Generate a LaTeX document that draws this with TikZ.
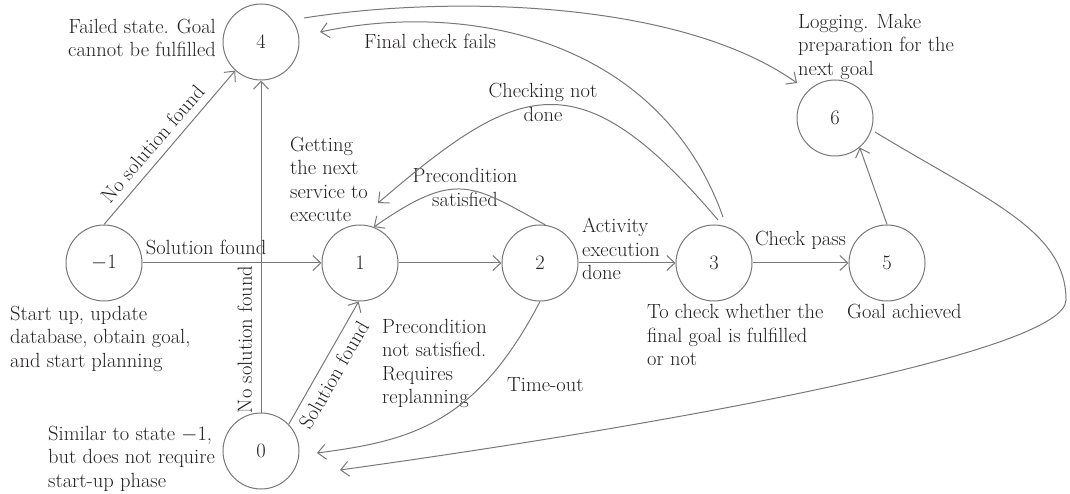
\documentclass[tikz,border=0pt]{standalone}
\usetikzlibrary{arrows.meta}
\definecolor{edgegray}{RGB}{120,120,120}
\definecolor{txtcol}{RGB}{35,31,32}
\newcommand{\lblfs}{\fontsize{20.5}{23.5}\selectfont}
\begin{document}
\begin{tikzpicture}[x=1pt,y=-1pt,
  every node/.style={text=txtcol},
  stnode/.style={circle, draw=edgegray, line width=1pt, minimum size=76pt, inner sep=0pt, font=\lblfs},
  lbl/.style={inner sep=0pt, font=\lblfs},
  conn/.style={draw=edgegray, line width=1pt, -{Straight Barb[length=8pt,width=15pt]}},
]
\useasboundingbox (0,0) rectangle (1070,494);

% states
\node[stnode] (n4) at (261,42) {4};
\node[stnode] (nm1) at (104,263) {$-$1};
\node[stnode] (n1) at (360,263) {1};
\node[stnode] (n2) at (540,263) {2};
\node[stnode] (n3) at (714,263) {3};
\node[stnode] (n5) at (887,263) {5};
\node[stnode] (n6) at (835,118) {6};
\node[stnode] (n0) at (261,451) {0};
\coordinate (loopR) at (1066,300);

% descriptions
\node[lbl, align=right, anchor=east] (tA) at (216,40.5) {\strut Failed state. Goal\\\strut cannot be fulfilled};
\node[lbl, align=left, anchor=west] (tB) at (290,182) {\strut Getting\\\strut the next\\\strut service to\\\strut execute};
\node[lbl, align=left, anchor=west] (tC) at (10,338.8) {\strut Start up, update\\\strut database, obtain goal,\\\strut and start planning};
\node[lbl, align=left, anchor=west] (tD) at (48,458.8) {\strut Similar to state $-$1,\\\strut but does not require\\\strut start-up phase};
\node[lbl, align=left, anchor=west] (tE) at (382,364) {\strut Precondition\\\strut not satisfied.\\\strut Requires\\\strut replanning};
\node[lbl, align=left, anchor=west] (tF) at (507,386.8) {\strut Time-out};
\node[lbl, align=left, anchor=west] (tG) at (647,337.3) {\strut To check whether the\\\strut final goal is fulfilled\\\strut or not};
\node[lbl, align=left, anchor=west] (tH) at (847,313.8) {\strut Goal achieved};
\node[lbl, align=left, anchor=west] (tI) at (798,47.3) {\strut Logging. Make\\\strut preparation for the\\\strut next goal};
\node[lbl, align=center] (tN) at (465,189.8) {\strut Precondition\\\strut satisfied};
\node[lbl, align=left, anchor=west] (tO) at (582,251.3) {\strut Activity\\\strut execution\\\strut done};
\node[lbl] (tQ) at (430,43.8) {\strut Final check fails};
\node[lbl, align=center] (tR) at (543,104.8) {\strut Checking not\\\strut done};

% straight connectors
\draw[conn] (nm1.north) -- node[lbl, pos=0.46, sloped, above=1pt] (lK) {\strut No solution found} (n4.228);
\draw[conn] (nm1.east) -- node[lbl, pos=0.355, above=1pt] (lJ) {\strut Solution found} (n1.west);
\draw[conn] (n0.north) -- node[lbl, pos=0.22, sloped, above=1.5pt] (lL) {\strut No solution found} (n4.south);
\draw[conn] (n0.44) -- node[lbl, pos=0.46, sloped, below=5pt] (lM) {\strut Solution found} (n1.268);
\draw[conn] (n1.east) -- (n2.west);
\draw[conn] (n2.east) -- (n3.west);
\draw[conn] (n3.east) -- node[lbl, above=10pt] (lP) {\strut Check pass} (n5.west);
\draw[conn] (n5.north) -- (n6.310);

% curved connectors
\draw[conn] (n2.82) .. controls (472,185) and (457,169) .. (n1.69);
\draw[conn] ([shift={(4,-43)}]n3.center) .. controls (578,55) and (518,83) .. ([shift={(18,-60)}]n1.center);
\draw[conn] ([shift={(9,-46)}]n3.center) .. controls (660,40) and (470,0) .. ([shift={(59,-10)}]n4.center);
\draw[conn] ([shift={(43,-24)}]n4.center) .. controls (450,-5) and (680,0) .. ([shift={(-38,-35)}]n6.center);
\draw[conn] (n2.south) .. controls (476,425) and (409,441) .. ([shift={(56,2)}]n0.center);
\draw[conn] ([shift={(40,14)}]n6.center) .. controls (987,200) and (1066,230) .. (loopR)
  .. controls (1066,350) and (700,420) .. ([shift={(79,19)}]n0.center);
\end{tikzpicture}
\end{document}
